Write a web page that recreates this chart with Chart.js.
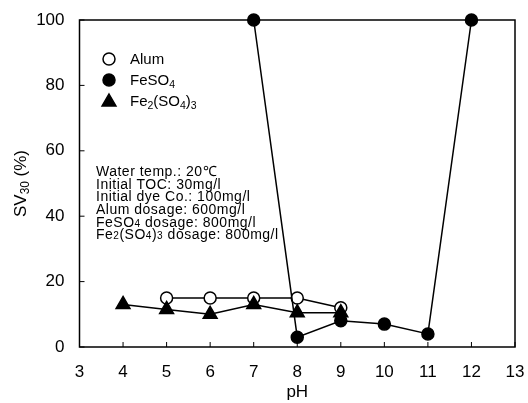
<!DOCTYPE html>
<html><head><meta charset="utf-8">
<script src="https://cdn.jsdelivr.net/npm/chart.js@4/dist/chart.umd.min.js"></script>
<style>html,body{margin:0;padding:0;background:#fff;overflow:hidden;} #wrap{width:528px;height:403px;position:relative;}</style>
</head><body><div id="wrap"><canvas id="c" width="528" height="403"></canvas></div>
<script>
// ---- data ----
const xTickValues = [3,4,5,6,7,8,9,10,11,12,13];
const yTickValues = [0,20,40,60,80,100];
const seriesNames = ["Alum", "FeSO_4", "Fe_2(SO_4)_3"];
const alumPH = [5,6,7,8,9];
const alumSV = [15,15,15,15,12];
const feso4PH = [7,8,9,10,11,12];
const feso4SV = [100,3,8,7,4,100];
const fe2PH = [4,5,6,7,8,9];
const fe2SV = [13,11.5,10,13,10.5,10.5];
const noteLines = [
  "Water temp.: 20\u2103",
  "Initial TOC: 30mg/l",
  "Initial dye Co.: 100mg/l",
  "Alum dosage: 600mg/l",
  "FeSO_4 dosage: 800mg/l",
  "Fe_2(SO_4)_3 dosage: 800mg/l"
];
const xTitle = "pH";
const yTitle = "SV_3_0 (%)";

const FONT = "'Liberation Sans', Arial, sans-serif";

function pts(xs, ys){ return xs.map((x,i)=>({x:x, y:ys[i]})); }

function tokens(str){
  const out = []; let i = 0;
  while (i < str.length){
    if (str[i] === '_' && i+1 < str.length){ out.push({t:str[i+1], sub:true}); i += 2; }
    else { out.push({t:str[i], sub:false}); i++; }
  }
  const m = [];
  out.forEach(o=>{ if (m.length && m[m.length-1].sub===o.sub) m[m.length-1].t += o.t; else m.push({t:o.t, sub:o.sub}); });
  return m;
}
function richWidth(ctx, str, size, subScale){
  let w = 0;
  tokens(str).forEach(tk=>{
    ctx.font = (tk.sub ? size*subScale : size) + "px " + FONT;
    w += ctx.measureText(tk.t).width;
  });
  return w;
}
function drawRich(ctx, str, x, y, size, subScale, subDrop){
  let cx = x;
  ctx.textAlign = 'left'; ctx.textBaseline = 'alphabetic';
  tokens(str).forEach(tk=>{
    const s = tk.sub ? size*subScale : size;
    ctx.font = s + "px " + FONT;
    ctx.fillText(tk.t, cx, tk.sub ? y + size*subDrop : y);
    cx += ctx.measureText(tk.t).width;
  });
}

function drawMarker(ctx, style, x, y, r){
  ctx.save();
  ctx.lineWidth = 1.5; ctx.strokeStyle = '#000';
  ctx.beginPath();
  if (style === 'triangle'){
    ctx.moveTo(x, y - r);
    ctx.lineTo(x + r*0.866, y + r*0.5);
    ctx.lineTo(x - r*0.866, y + r*0.5);
    ctx.closePath();
    ctx.fillStyle = '#000';
  } else {
    ctx.arc(x, y, r, 0, Math.PI*2);
    ctx.fillStyle = style === 'open' ? '#fff' : '#000';
  }
  ctx.fill(); ctx.stroke();
  ctx.restore();
}

const decor = {
  id: 'decor',
  afterDatasetsDraw(chart){
    const ctx = chart.ctx, a = chart.chartArea;
    const xs = chart.scales.x, ys = chart.scales.y;
    ctx.save();
    ctx.strokeStyle = '#000'; ctx.lineWidth = 1.5;
    ctx.strokeRect(a.left, a.top, a.right - a.left, a.bottom - a.top);
    ctx.beginPath();
    xTickValues.forEach(v=>{ const px = xs.getPixelForValue(v); ctx.moveTo(px, a.bottom); ctx.lineTo(px, a.bottom - 5); });
    yTickValues.forEach(v=>{ const py = ys.getPixelForValue(v); ctx.moveTo(a.left, py); ctx.lineTo(a.left + 5, py); });
    ctx.lineWidth = 1; ctx.stroke();
    const styles = ['open','filled','triangle'];
    const radii = [6,6,8];
    const rowY = [59, 80, 101];
    seriesNames.forEach((n,i)=>{
      drawMarker(ctx, styles[i], 109, rowY[i] + (i===2?1:0), radii[i]);
      ctx.fillStyle = '#000';
      drawRich(ctx, n, 130, rowY[i] + 5, 15, 0.7, 0.18);
    });
    const hasLS = ('letterSpacing' in ctx);
    if (hasLS) ctx.letterSpacing = '0.5px';
    const noteY = [176, 189, 201, 214, 227, 239];
    noteLines.forEach((l,i)=>{ ctx.fillStyle = '#000'; drawRich(ctx, l, 96, noteY[i], 14, 0.72, 0.0); });
    if (hasLS) ctx.letterSpacing = '0px';
    ctx.save();
    ctx.translate(26, (a.top + a.bottom)/2);
    ctx.rotate(-Math.PI/2);
    const w = richWidth(ctx, yTitle, 17, 0.7);
    ctx.fillStyle = '#000';
    drawRich(ctx, yTitle, -w/2, 0, 17, 0.7, 0.2);
    ctx.restore();
    ctx.restore();
  }
};

const ds = (label, xs, ys, style, r) => ({
  label: label,
  data: pts(xs, ys),
  borderColor: '#000',
  borderWidth: 1.5,
  backgroundColor: style === 'open' ? '#fff' : '#000',
  pointBackgroundColor: style === 'open' ? '#fff' : '#000',
  pointBorderColor: '#000',
  pointBorderWidth: 1.5,
  pointStyle: style === 'triangle' ? 'triangle' : 'circle',
  pointRadius: r,
  pointHoverRadius: r,
  tension: 0,
  fill: false,
  clip: false
});

new Chart(document.getElementById('c'), {
  type: 'line',
  data: {
    datasets: [
      ds('Fe2(SO4)3', fe2PH, fe2SV, 'triangle', 8),
      ds('FeSO4', feso4PH, feso4SV, 'filled', 6),
      ds('Alum', alumPH, alumSV, 'open', 6)
    ]
  },
  options: {
    responsive: false,
    animation: false,
    devicePixelRatio: 1,
    layout: { padding: { left: 0, top: 20, right: 13, bottom: 0 } },
    plugins: { legend: { display: false }, tooltip: { enabled: false } },
    scales: {
      x: {
        type: 'linear', min: 3, max: 13,
        afterBuildTicks: s => { s.ticks = xTickValues.map(v=>({value:v})); },
        afterFit: s => { s.height = 56; s.paddingLeft = 0; s.paddingRight = 0; },
        grid: { display: false, drawTicks: false },
        border: { display: false },
        ticks: { color: '#000', font: { family: FONT, size: 17 }, padding: 15, maxRotation: 0, autoSkip: false },
        title: { display: true, text: xTitle, color: '#000', font: { family: FONT, size: 17 }, padding: { top: 0, bottom: 0 } }
      },
      y: {
        type: 'linear', min: 0, max: 100,
        afterBuildTicks: s => { s.ticks = yTickValues.map(v=>({value:v})); },
        afterFit: s => { s.width = 79.5; s.paddingTop = 0; s.paddingBottom = 0; },
        grid: { display: false, drawTicks: false },
        border: { display: false },
        ticks: { color: '#000', font: { family: FONT, size: 17 }, padding: 15 }
      }
    }
  },
  plugins: [decor]
});
</script>
</body></html>
